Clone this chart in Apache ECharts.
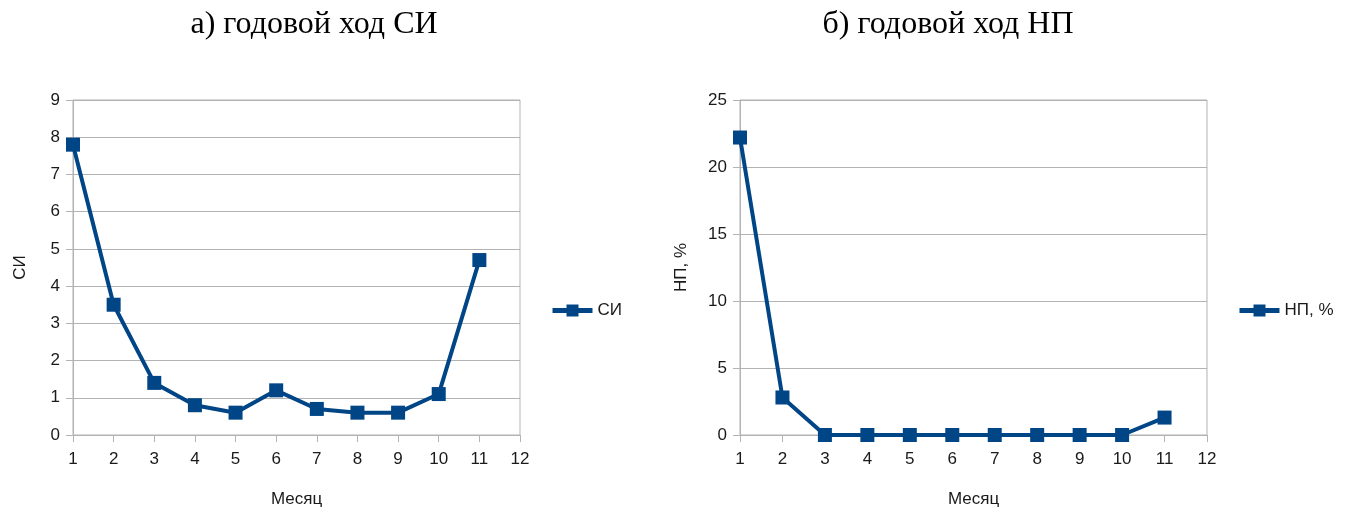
<!DOCTYPE html>
<html><head><meta charset="utf-8">
<script src="https://cdn.jsdelivr.net/npm/echarts@6/dist/echarts.min.js"></script>
<style>html,body{margin:0;padding:0;background:#fff}#c{width:1352px;height:512px}</style>
</head><body><div id="c"></div>
<script>
const months = [1,2,3,4,5,6,7,8,9,10,11];
const siValues = [7.8, 3.5, 1.4, 0.8, 0.6, 1.2, 0.7, 0.6, 0.6, 1.1, 4.7];
const npValues = [22.2, 2.8, 0, 0, 0, 0, 0, 0, 0, 0, 1.3];
const titleA = 'а) годовой ход СИ';
const titleB = 'б) годовой ход НП';
const xName = 'Месяц';
const siName = 'СИ';
const npName = 'НП, %';

const color = '#004586';
const gridColor = '#b3b3b3';
const lbl = {color:'#1a1a1a', fontFamily:'Liberation Sans', fontSize:17};

function xAxis(gi){
  return {type:'value', gridIndex:gi, min:1, max:12, interval:1,
    name:xName, nameLocation:'middle', nameGap:56,
    nameTextStyle:{color:'#1a1a1a', fontFamily:'Liberation Sans', fontSize:17},
    axisLine:{show:true, onZero:false, lineStyle:{color:gridColor}},
    axisTick:{show:true, length:7, lineStyle:{color:gridColor}},
    axisLabel:Object.assign({margin:16}, lbl),
    splitLine:{show:false}};
}
function yAxis(gi, max, interval, name, gap){
  return {type:'value', gridIndex:gi, min:0, max:max, interval:interval,
    name:name, nameLocation:'middle', nameGap:gap,
    nameTextStyle:{color:'#1a1a1a', fontFamily:'Liberation Sans', fontSize:17},
    axisLine:{show:true, lineStyle:{color:gridColor}},
    axisTick:{show:true, length:7, lineStyle:{color:gridColor}},
    axisLabel:Object.assign({margin:13}, lbl),
    splitLine:{show:true, lineStyle:{color:gridColor, width:1}}};
}
const chart = echarts.init(document.getElementById('c'));
chart.setOption({
  animation:false,
  title:[
    {text:titleA, left:309, top:4, textAlign:'center', textStyle:{fontFamily:'Liberation Serif', fontWeight:'normal', fontSize:32, color:'#000'}},
    {text:titleB, left:943, top:4, textAlign:'center', textStyle:{fontFamily:'Liberation Serif', fontWeight:'normal', fontSize:32, color:'#000'}}
  ],
  legend:[
    {data:[siName], left:545, top:297, orient:'vertical', itemWidth:40, itemHeight:15, itemGap:6, textStyle:lbl, lineStyle:{width:5}},
    {data:[npName], left:1232, top:297, orient:'vertical', itemWidth:40, itemHeight:15, itemGap:6, textStyle:lbl, lineStyle:{width:5}}
  ],
  grid:[
    {left:73, top:100, width:447, height:335, show:true, borderColor:gridColor, borderWidth:1, outerBoundsMode:'none', containLabel:false},
    {left:740, top:100, width:467, height:335, show:true, borderColor:gridColor, borderWidth:1, outerBoundsMode:'none', containLabel:false}
  ],
  xAxis:[xAxis(0), xAxis(1)],
  yAxis:[yAxis(0, 9, 1, siName, 44), yAxis(1, 25, 5, npName, 50)],
  series:[
    {name:siName, type:'line', xAxisIndex:0, yAxisIndex:0, data:months.map((m,i)=>[m, siValues[i]]),
     symbol:'rect', symbolSize:14, lineStyle:{color:color, width:4}, itemStyle:{color:color}},
    {name:npName, type:'line', xAxisIndex:1, yAxisIndex:1, data:months.map((m,i)=>[m, npValues[i]]),
     symbol:'rect', symbolSize:14, lineStyle:{color:color, width:4}, itemStyle:{color:color}}
  ]
});
</script></body></html>
